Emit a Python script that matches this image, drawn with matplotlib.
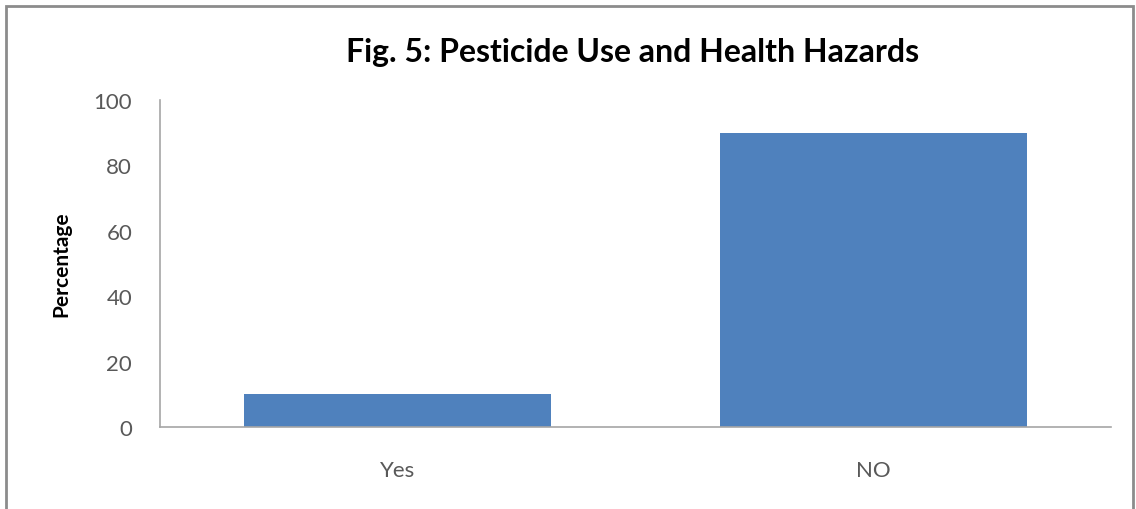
import matplotlib.pyplot as plt
from matplotlib.patches import Rectangle

# survey answers: did pesticide use cause health hazards
categories = ['Yes', 'NO']
percentages = [10, 90]
yticks = [0, 20, 40, 60, 80, 100]

bar_color = '#4F81BD'
text_gray = '#595959'
font = 'Lato'

fig = plt.figure(figsize=(11.36, 5.10), dpi=100)
fig.patch.set_facecolor('white')

# outer chart border
fig.patches.append(Rectangle((0.005, -0.01), 0.992, 0.997, transform=fig.transFigure,
                             fill=False, edgecolor='#8c8c8c', linewidth=2.0))

ax = fig.add_axes([0.1408, 0.1608, 0.8372, 0.6412])
x = range(len(categories))
ax.bar(x, percentages, width=0.646, color=bar_color)

ax.set_xlim(-0.5, 1.5)
ax.set_ylim(0, 100)
ax.set_yticks(yticks)
ax.set_xticks(list(x))
ax.set_xticklabels(categories)

for s in ['top', 'right']:
    ax.spines[s].set_visible(False)
for s in ['left', 'bottom']:
    ax.spines[s].set_color('#a6a6a6')
    ax.spines[s].set_linewidth(1.2)

ax.tick_params(axis='both', length=0, labelsize=16, labelcolor=text_gray)
ax.tick_params(axis='y', pad=20)
ax.tick_params(axis='x', pad=24)
for lbl in ax.get_xticklabels() + ax.get_yticklabels():
    lbl.set_family(font)

ax.set_ylabel('Percentage', fontsize=15, fontweight='bold', family=font, labelpad=16)

fig.text(0.557, 0.898, 'Fig. 5: Pesticide Use and Health Hazards', ha='center', va='center',
         fontsize=23, fontweight='bold', family=font)

plt.savefig('out.png', dpi=100)
